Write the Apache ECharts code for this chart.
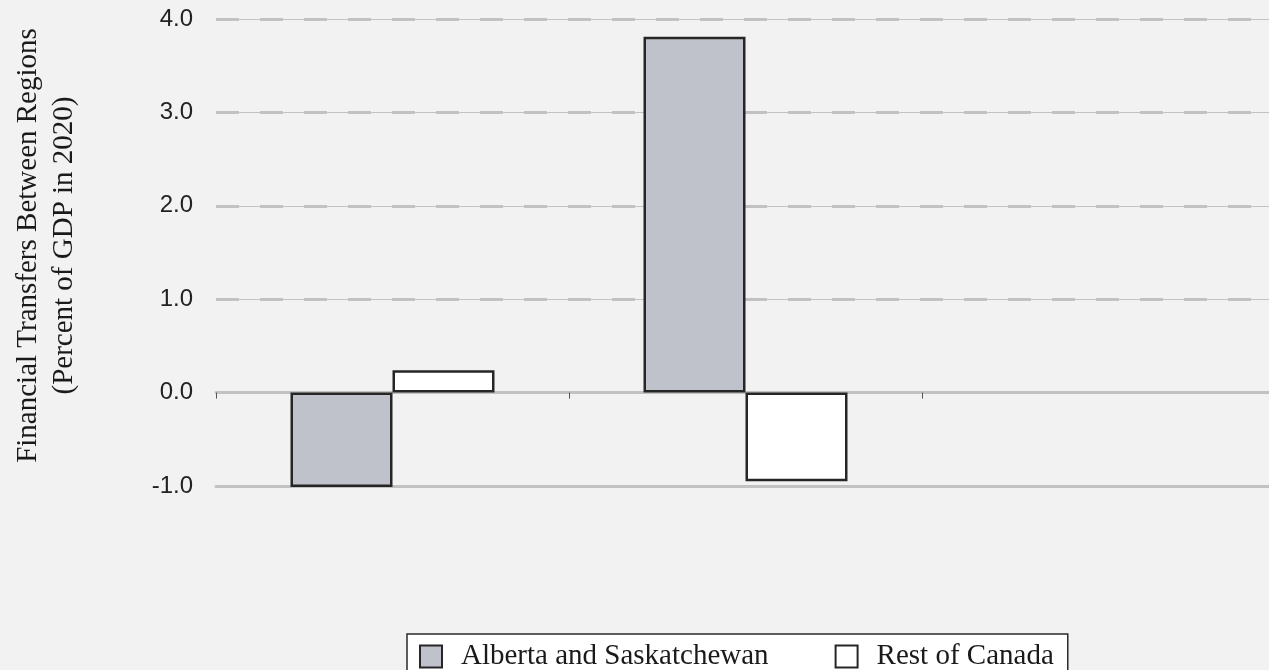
<!DOCTYPE html>
<html>
<head>
<meta charset="utf-8">
<script src="https://cdn.jsdelivr.net/npm/echarts@6/dist/echarts.min.js"></script>
<style>
  html, body { margin: 0; padding: 0; background: #f2f2f2; }
  #chart { width: 1269px; height: 670px; }
</style>
</head>
<body>
<div id="chart"></div>
<script>
// category labels in the source are illegible, so they are kept but not drawn
const categories = ['Scenario 1', 'Scenario 2', 'Scenario 3']
const albertaSask = [-1.01, 3.81, null]
const restOfCanada = [0.24, -0.95, null]
const yTicks = { min: -1, max: 4, interval: 1 }

const serif = '"Liberation Serif", "DejaVu Serif", serif'
const sans = '"Liberation Sans", Arial, sans-serif'
const gridColor = '#c2c2c2'

const chart = echarts.init(document.getElementById('chart'))

const barStyle = fill => ({
  color: fill,
  borderColor: '#262626',
  borderWidth: 2.5
})

chart.setOption({
  backgroundColor: '#f2f2f2',
  animation: false,
  grid: { left: 216, top: 19, width: 1059, bottom: 184, outerBoundsMode: 'none' },
  legend: {
    left: 407,
    top: 634,
    orient: 'horizontal',
    backgroundColor: '#ffffff',
    borderColor: '#2a2a2a',
    borderWidth: 1.5,
    borderRadius: 0,
    padding: [8, 14, 12, 12],
    itemGap: 66,
    itemWidth: 22,
    itemHeight: 22,
    icon: 'rect',
    textStyle: {
      fontFamily: serif,
      fontSize: 29,
      color: '#1a1a1a',
      padding: [0, 0, 0, 14]
    },
    data: ['Alberta and Saskatchewan', 'Rest of Canada']
  },
  xAxis: [
    {
      type: 'category',
      data: categories,
      position: 'bottom',
      axisLine: { onZero: true, lineStyle: { color: gridColor, width: 3 } },
      axisTick: { show: true, length: 6, lineStyle: { color: '#555', width: 1 } },
      axisLabel: { show: false },
      splitLine: { show: false }
    },
    {
      // solid line along the bottom (-1.0)
      type: 'category',
      data: categories,
      position: 'bottom',
      axisLine: { onZero: false, lineStyle: { color: gridColor, width: 3 } },
      axisTick: { show: false },
      axisLabel: { show: false }
    }
  ],
  yAxis: [
    {
      type: 'value',
      min: yTicks.min,
      max: yTicks.max,
      interval: yTicks.interval,
      name: 'Financial Transfers Between Regions\n(Percent of GDP in 2020)',
      nameLocation: 'middle',
      nameRotate: 90,
      nameGap: 134,
      nameTextStyle: {
        fontFamily: serif,
        fontSize: 29,
        lineHeight: 36,
        color: '#1a1a1a',
        padding: [0, 0, 0, 14]
      },
      axisLine: { show: false },
      axisTick: { show: false },
      axisLabel: {
        margin: 23,
        fontFamily: sans,
        fontSize: 24,
        color: '#222',
        formatter: v => v.toFixed(1)
      },
      splitLine: {
        show: true,
        lineStyle: { color: gridColor, width: 3, type: [23, 21] }
      }
    },
    {
      // thin continuous line under the dashes
      type: 'value',
      min: yTicks.min,
      max: yTicks.max,
      interval: yTicks.interval,
      position: 'left',
      axisLine: { show: false },
      axisTick: { show: false },
      axisLabel: { show: false },
      splitLine: { show: true, lineStyle: { color: gridColor, width: 1 } }
    }
  ],
  series: [
    {
      name: 'Alberta and Saskatchewan',
      type: 'bar',
      xAxisIndex: 0,
      yAxisIndex: 0,
      barWidth: 102,
      barGap: '0%',
      itemStyle: barStyle('#bfc2ca'),
      data: albertaSask
    },
    {
      name: 'Rest of Canada',
      type: 'bar',
      xAxisIndex: 0,
      yAxisIndex: 0,
      barWidth: 102,
      barGap: '0%',
      itemStyle: barStyle('#ffffff'),
      data: restOfCanada
    }
  ]
})
</script>
</body>
</html>
